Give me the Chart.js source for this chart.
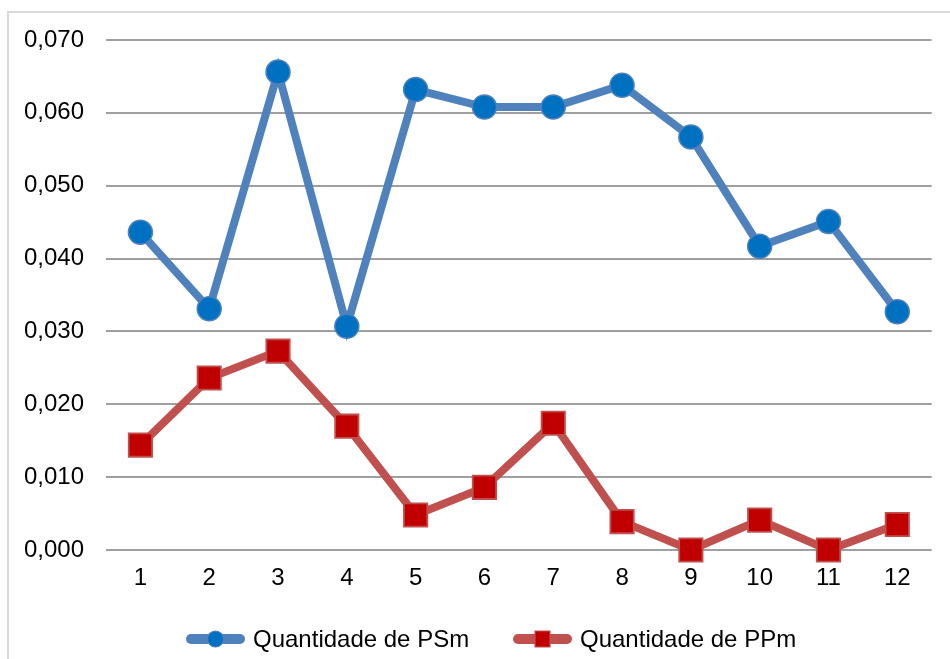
<!DOCTYPE html>
<html>
<head>
<meta charset="utf-8">
<script src="https://cdn.jsdelivr.net/npm/chart.js@4/dist/chart.umd.min.js"></script>
<style>
  html, body { margin: 0; padding: 0; background: #ffffff; }
  #wrap { position: relative; width: 950px; height: 659px; overflow: hidden; }
  #frame { position: absolute; left: 7px; top: 11px; width: 1000px; height: 700px;
           border: 2px solid #dadada; box-sizing: border-box; }
  #chart { position: absolute; left: 0; top: 0; }
</style>
</head>
<body>
<div id="wrap">
  <div id="frame"></div>
  <canvas id="chart" width="950" height="659"></canvas>
</div>
<script>
// Monthly quantities of PSm and PPm
const months = ['1', '2', '3', '4', '5', '6', '7', '8', '9', '10', '11', '12'];
const psmValues = [0.0436, 0.0331, 0.0656, 0.0307, 0.0632, 0.0608, 0.0608, 0.0638, 0.0567, 0.0417, 0.0451, 0.0327];
const ppmValues = [0.0144, 0.0236, 0.0273, 0.0170, 0.0048, 0.0086, 0.0174, 0.0039, 0.0000, 0.0041, 0.0000, 0.0035];
const seriesNames = ['Quantidade de PSm', 'Quantidade de PPm'];
const yMin = 0;
const yMax = 0.07;
const yStep = 0.01;

const BLUE_LINE = '#4F81BD';
const BLUE_FILL = '#0070C0';
const RED_LINE = '#C0504D';
const RED_FILL = '#C00000';
const FONT = "'Liberation Sans', Arial, sans-serif";

// Legend drawn as a short thick line with the series marker on it
const lineLegend = {
  id: 'lineLegend',
  afterDraw(chart) {
    const ctx = chart.ctx;
    const y = 639;
    const items = [
      { x: 186, ds: chart.data.datasets[0], marker: 'circle' },
      { x: 513, ds: chart.data.datasets[1], marker: 'rect' }
    ];
    items.forEach(it => {
      const ds = it.ds;
      ctx.save();
      ctx.strokeStyle = ds.borderColor;
      ctx.lineWidth = 10;
      ctx.lineCap = 'round';
      ctx.beginPath();
      ctx.moveTo(it.x + 5, y);
      ctx.lineTo(it.x + 54, y);
      ctx.stroke();
      const cx = it.x + 29.5;
      ctx.fillStyle = ds.pointBackgroundColor;
      ctx.strokeStyle = ds.pointBorderColor;
      ctx.lineWidth = 1.2;
      ctx.beginPath();
      if (it.marker === 'circle') {
        ctx.arc(cx, y, 8, 0, Math.PI * 2);
      } else {
        ctx.rect(cx - 7.5, y - 8, 15, 16);
      }
      ctx.fill();
      ctx.stroke();
      ctx.fillStyle = '#000000';
      ctx.font = '24px ' + FONT;
      ctx.textBaseline = 'middle';
      ctx.textAlign = 'left';
      ctx.fillText(ds.label, it.x + 67, y + 1);
      ctx.restore();
    });
  }
};

new Chart(document.getElementById('chart'), {
  type: 'line',
  data: {
    labels: months,
    datasets: [
      {
        label: seriesNames[0],
        data: psmValues,
        borderColor: BLUE_LINE,
        borderWidth: 8,
        pointStyle: 'circle',
        pointRadius: 12,
        pointHoverRadius: 12,
        pointBackgroundColor: BLUE_FILL,
        pointBorderColor: BLUE_LINE,
        pointBorderWidth: 1.5,
        tension: 0,
        clip: false
      },
      {
        label: seriesNames[1],
        data: ppmValues,
        borderColor: RED_LINE,
        borderWidth: 8,
        pointStyle: 'rect',
        pointRadius: 16.5,
        pointHoverRadius: 16.5,
        pointBackgroundColor: RED_FILL,
        pointBorderColor: RED_LINE,
        pointBorderWidth: 1.8,
        tension: 0,
        clip: false
      }
    ]
  },
  options: {
    responsive: false,
    animation: false,
    layout: { padding: { left: 0, right: 12, top: 40, bottom: 65 } },
    plugins: {
      legend: { display: false },
      tooltip: { enabled: false }
    },
    scales: {
      x: {
        offset: true,
        afterFit(scale) { scale.height = 44; },
        grid: { display: false, drawTicks: false },
        border: { display: false },
        ticks: {
          color: '#000000',
          font: { family: FONT, size: 24 },
          padding: 14,
          maxRotation: 0,
          autoSkip: false
        }
      },
      y: {
        min: yMin,
        max: yMax,
        afterFit(scale) { scale.width = 106; },
        grid: { color: '#9f9f9f', lineWidth: 2, drawTicks: false },
        border: { display: false },
        ticks: {
          stepSize: yStep,
          color: '#000000',
          font: { family: FONT, size: 24 },
          padding: 22,
          callback: v => v.toFixed(3).replace('.', ',')
        }
      }
    }
  },
  plugins: [lineLegend]
});
</script>
</body>
</html>
